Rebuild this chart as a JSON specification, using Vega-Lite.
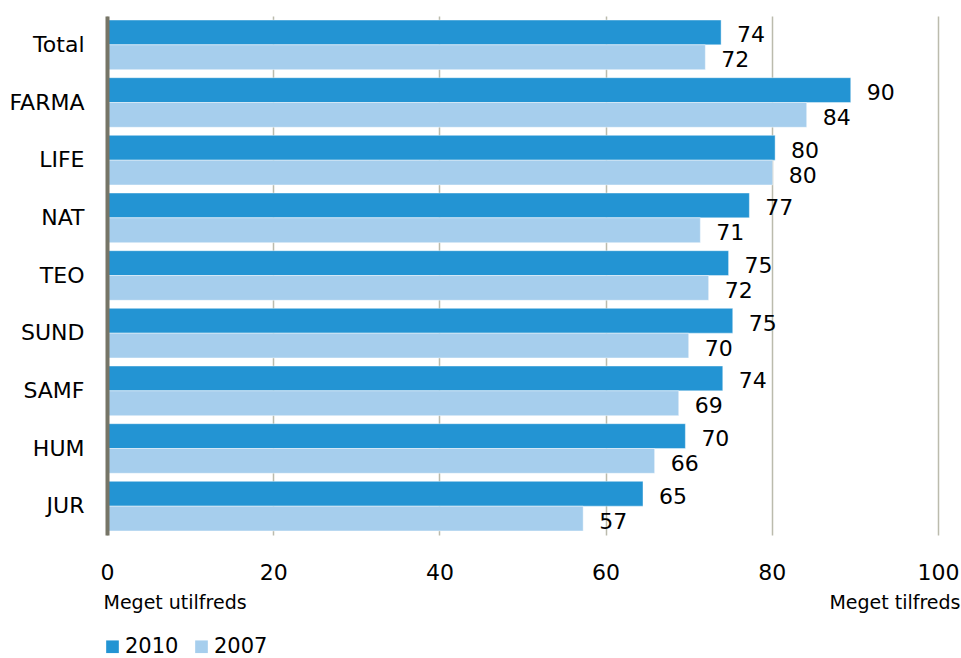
{
  "$schema": "https://vega.github.io/schema/vega-lite/v6.json",
  "autosize": {"type": "none"},
  "width": 831,
  "height": 519,
  "padding": {"left": 107, "top": 16, "right": 23, "bottom": 123},
  "background": "white",
  "config": {
    "font": "DejaVu Sans",
    "view": {"stroke": null}
  },
  "data": {
    "values": [
      {"fak": "Total", "year": "2010", "value": 73.9},
      {"fak": "Total", "year": "2007", "value": 72.0},
      {"fak": "FARMA", "year": "2010", "value": 89.5},
      {"fak": "FARMA", "year": "2007", "value": 84.2},
      {"fak": "LIFE", "year": "2010", "value": 80.4},
      {"fak": "LIFE", "year": "2007", "value": 80.1},
      {"fak": "NAT", "year": "2010", "value": 77.3},
      {"fak": "NAT", "year": "2007", "value": 71.4},
      {"fak": "TEO", "year": "2010", "value": 74.8},
      {"fak": "TEO", "year": "2007", "value": 72.4},
      {"fak": "SUND", "year": "2010", "value": 75.3},
      {"fak": "SUND", "year": "2007", "value": 70.0},
      {"fak": "SAMF", "year": "2010", "value": 74.1},
      {"fak": "SAMF", "year": "2007", "value": 68.8},
      {"fak": "HUM", "year": "2010", "value": 69.6},
      {"fak": "HUM", "year": "2007", "value": 65.9},
      {"fak": "JUR", "year": "2010", "value": 64.5},
      {"fak": "JUR", "year": "2007", "value": 57.3}
    ]
  },
  "encoding": {
    "y": {
      "field": "fak",
      "type": "nominal",
      "sort": ["Total", "FARMA", "LIFE", "NAT", "TEO", "SUND", "SAMF", "HUM", "JUR"],
      "scale": {"paddingInner": 0.14, "paddingOuter": 0.07},
      "axis": {
        "title": null,
        "ticks": false,
        "zindex": 1,
        "domainColor": "#767567",
        "domainWidth": 4,
        "labelFontSize": 22,
        "labelColor": "#000000",
        "labelPadding": 23
      }
    },
    "yOffset": {"field": "year", "type": "nominal", "sort": ["2010", "2007"]}
  },
  "layer": [
    {
      "mark": {"type": "bar", "stroke": "#ffffff", "strokeWidth": 0.6, "strokeOpacity": 0.7},
      "encoding": {
        "x": {
          "field": "value",
          "type": "quantitative",
          "scale": {"domain": [0, 100]},
          "axis": {
            "orient": "bottom",
            "values": [0, 20, 40, 60, 80, 100],
            "domain": false,
            "ticks": false,
            "labelFlush": false,
            "gridColor": "#bbbbad",
            "gridWidth": 1.5,
            "labelFontSize": 22,
            "labelColor": "#000000",
            "labelPadding": 27,
            "title": "Meget utilfreds",
            "titleFontSize": 19,
            "titleFontWeight": "normal",
            "titleColor": "#000000",
            "titleAnchor": "start",
            "titleAlign": "left",
            "titleBaseline": "middle",
            "titleX": -4,
            "titleY": 67
          }
        },
        "color": {
          "field": "year",
          "type": "nominal",
          "scale": {"domain": ["2010", "2007"], "range": ["#2394d3", "#a6ceed"]},
          "legend": {
            "title": null,
            "orient": "none",
            "direction": "horizontal",
            "legendX": -5,
            "legendY": 620,
            "symbolType": "square",
            "symbolSize": 160,
            "symbolStrokeWidth": 0,
            "labelFontSize": 21,
            "labelColor": "#000000",
            "labelOffset": 2,
            "columnPadding": 12
          }
        }
      }
    },
    {
      "mark": {"type": "text", "align": "left", "baseline": "middle", "dx": 16, "dy": 3, "fontSize": 22, "color": "#000000"},
      "encoding": {
        "x": {
          "field": "value",
          "type": "quantitative",
          "scale": {"domain": [0, 100]},
          "axis": {
            "orient": "bottom",
            "labels": false,
            "domain": false,
            "ticks": false,
            "grid": false,
            "title": "Meget tilfreds",
            "titleFontSize": 19,
            "titleFontWeight": "normal",
            "titleColor": "#000000",
            "titleAnchor": "end",
            "titleAlign": "right",
            "titleBaseline": "middle",
            "titleX": 853,
            "titleY": 67
          }
        },
        "text": {"field": "value", "type": "quantitative", "format": ".0f"}
      }
    }
  ],
  "resolve": {"axis": {"x": "independent"}}
}
